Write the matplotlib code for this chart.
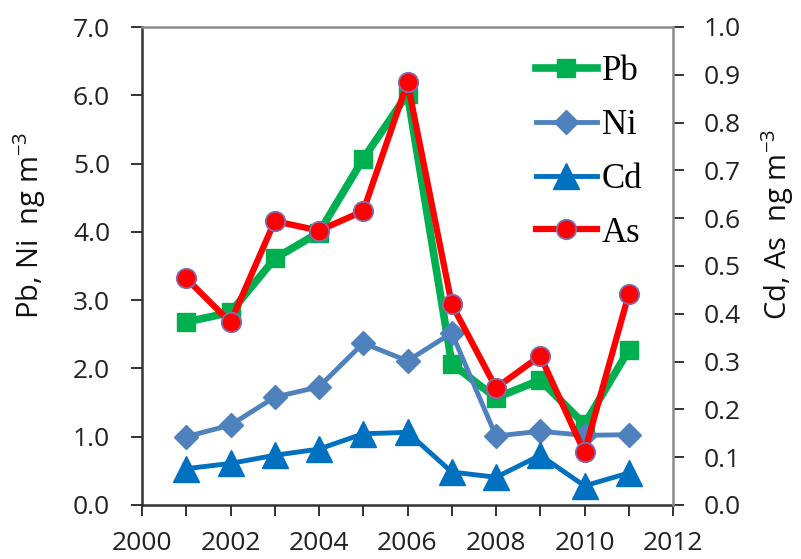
import matplotlib
matplotlib.use("Agg")
import matplotlib.pyplot as plt
from matplotlib.ticker import MultipleLocator, FormatStrFormatter
from matplotlib.lines import Line2D

years = [2001, 2002, 2003, 2004, 2005, 2006, 2007, 2008, 2009, 2010, 2011]
pb = [2.68, 2.82, 3.61, 3.99, 5.07, 6.02, 2.07, 1.57, 1.83, 1.18, 2.27]
ni = [1.00, 1.17, 1.58, 1.73, 2.37, 2.11, 2.52, 1.01, 1.08, 1.02, 1.03]
cd = [0.076, 0.087, 0.104, 0.117, 0.149, 0.152, 0.069, 0.058, 0.104, 0.040, 0.067]
as_ = [0.474, 0.382, 0.594, 0.574, 0.615, 0.884, 0.420, 0.245, 0.312, 0.110, 0.441]
labels = ["Pb", "Ni", "Cd", "As"]

plt.rcParams["mathtext.fontset"] = "custom"
plt.rcParams["mathtext.rm"] = "Open Sans"
plt.rcParams["mathtext.it"] = "Open Sans:italic"
plt.rcParams["mathtext.bf"] = "Open Sans:bold"

tickfont = "Open Sans"
W, H = 801, 559
fig = plt.figure(figsize=(W / 100, H / 100), dpi=100)
ax = fig.add_axes([142 / W, 1 - 505 / H, 531 / W, 478 / H])
ax2 = ax.twinx()

styles = {
    "Pb": dict(color="#00B050", lw=5.5, marker="s", ms=13, mec="#00B050"),
    "Ni": dict(color="#4F81BD", lw=3.5, marker="D", ms=12, mec="#4F81BD"),
    "Cd": dict(color="#0070C0", lw=3.5, marker="^", ms=19, mec="#0070C0"),
    "As": dict(color="#FF0000", lw=4.5, marker="o", ms=14, mec="#7F6FB0", mew=1.3),
}

ax.plot(years, pb, zorder=3, **styles["Pb"])
ax.plot(years, ni, zorder=4, **styles["Ni"])
ax2.plot(years, cd, zorder=3, **styles["Cd"])
ax2.plot(years, as_, zorder=5, **styles["As"])

ax.set_xlim(2000, 2012)
ax.set_ylim(0, 7)
ax2.set_ylim(0, 1.0)
ax.xaxis.set_major_locator(MultipleLocator(2))
ax.xaxis.set_minor_locator(MultipleLocator(1))
ax.yaxis.set_major_locator(MultipleLocator(1))
ax.yaxis.set_major_formatter(FormatStrFormatter("%.1f"))
ax2.yaxis.set_major_locator(MultipleLocator(0.1))
ax2.yaxis.set_major_formatter(FormatStrFormatter("%.1f"))

ax.tick_params(axis="y", which="both", direction="out", length=8, width=1.3,
               labelsize=19, colors="#222222", pad=15)
ax.tick_params(axis="x", which="both", direction="out", length=8, width=1.3,
               labelsize=19, colors="#222222", pad=11)
ax2.tick_params(axis="y", which="both", direction="out", length=8, width=1.3,
                labelsize=19, colors="#222222", pad=14)
for lab in ax.get_xticklabels() + ax.get_yticklabels() + ax2.get_yticklabels():
    lab.set_family(tickfont)

ax.spines["left"].set_color("#333333")
ax.spines["bottom"].set_color("#333333")
ax.spines["left"].set_linewidth(1.8)
ax.spines["bottom"].set_linewidth(1.8)
for s in ("top", "right"):
    ax.spines[s].set_visible(False)
    ax2.spines[s].set_color("#8C8C8C")
    ax2.spines[s].set_linewidth(1.8)
ax2.spines["left"].set_visible(False)
ax2.spines["bottom"].set_visible(False)

fig.text(30 / W, 1 - 225 / H, "Pb, Ni  ng m$^{-3}$", rotation=90, ha="center",
         va="center", fontsize=21, family=tickfont, color="#111111")
fig.text(778 / W, 1 - 224 / H, "Cd, As  ng m$^{-3}$", rotation=90, ha="center",
         va="center", fontsize=21, family=tickfont, color="#111111")

handles = [Line2D([], [], **{k: v for k, v in styles[n].items()}) for n in labels]
leg = fig.legend(handles, labels, loc="upper left",
                 bbox_to_anchor=(536 / W, 1 - 55 / H), frameon=False,
                 handlelength=1.75, labelspacing=0.6, handletextpad=0.15,
                 borderpad=0, borderaxespad=0,
                 prop={"family": "Liberation Serif", "size": 25})
leg.set_zorder(10)

fig.savefig("out.png", dpi=100)
